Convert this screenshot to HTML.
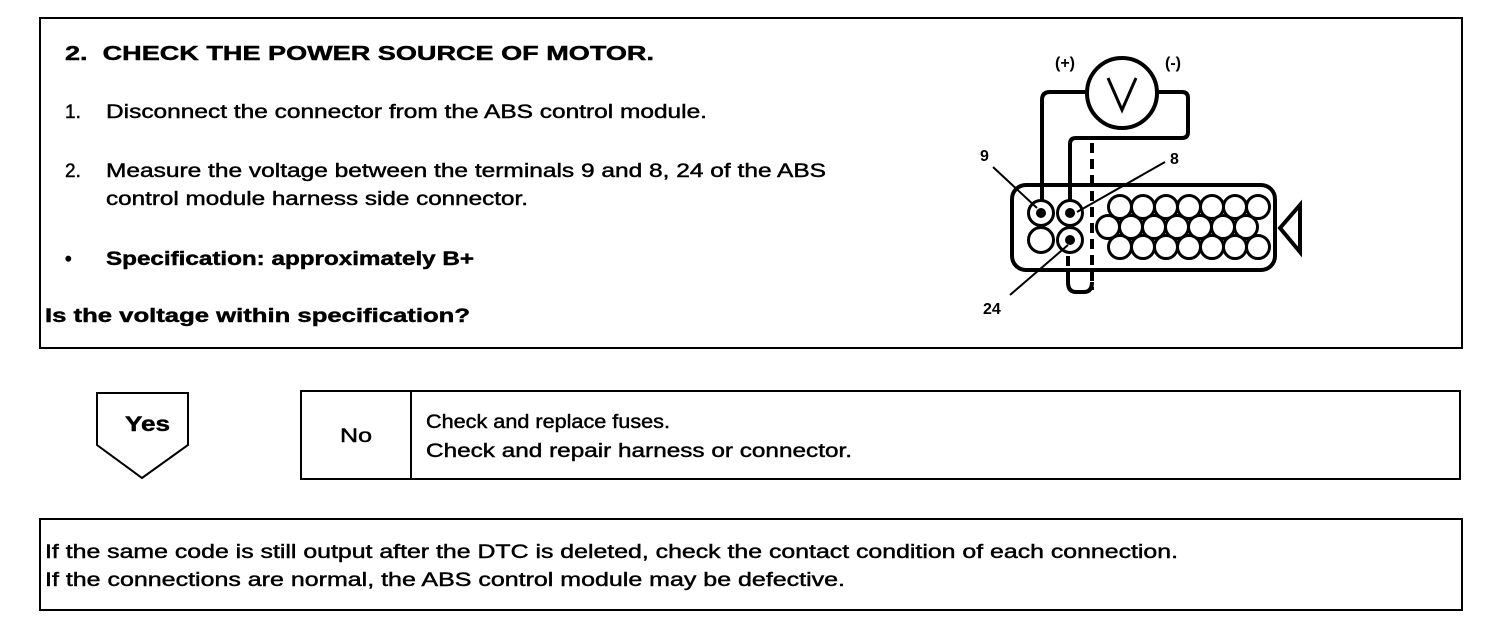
<!DOCTYPE html>
<html><head><style>
body{margin:0;background:#fff;}
svg text{font-family:"Liberation Sans",Arial,sans-serif;fill:#000;}
.t{stroke:#000;stroke-width:0.45;}
</style></head><body>
<svg width="1504" height="626" viewBox="0 0 1504 626" xmlns="http://www.w3.org/2000/svg">
<g fill="none" stroke="#000" stroke-width="2">
<rect x="40" y="18" width="1422" height="330"/>
<path d="M97 393 H188 V445 L142 478 L97 445 Z"/>
<rect x="301" y="391" width="1159" height="88"/>
<line x1="411" y1="391" x2="411" y2="479"/>
<rect x="40" y="519" width="1422" height="91"/>
</g>
<g font-size="19" class="t" lengthAdjust="spacingAndGlyphs">
<text x="65" y="60" font-weight="bold" font-size="20" textLength="589" lengthAdjust="spacingAndGlyphs">2.&#160;&#160;CHECK THE POWER SOURCE OF MOTOR.</text>
<text x="65" y="118">1.</text><text x="106" y="118" textLength="601" lengthAdjust="spacingAndGlyphs">Disconnect the connector from the ABS control module.</text>
<text x="65" y="177">2.</text><text x="106" y="177" textLength="720" lengthAdjust="spacingAndGlyphs">Measure the voltage between the terminals 9 and 8, 24 of the ABS</text>
<text x="106" y="205" textLength="422" lengthAdjust="spacingAndGlyphs">control module harness side connector.</text>
<text x="65" y="265" font-weight="bold">•</text><text x="106" y="265" font-weight="bold" textLength="368" lengthAdjust="spacingAndGlyphs">Specification: approximately B+</text>
<text x="45" y="322" font-weight="bold" textLength="425" lengthAdjust="spacingAndGlyphs">Is the voltage within specification?</text>
<text x="125" y="431" font-weight="bold" font-size="21" textLength="45" lengthAdjust="spacingAndGlyphs">Yes</text>
<text x="340" y="442" textLength="32" lengthAdjust="spacingAndGlyphs">No</text>
<text x="426" y="428" textLength="244" lengthAdjust="spacingAndGlyphs">Check and replace fuses.</text>
<text x="426" y="457" textLength="426" lengthAdjust="spacingAndGlyphs">Check and repair harness or connector.</text>
<text x="45" y="558" textLength="1133" lengthAdjust="spacingAndGlyphs">If the same code is still output after the DTC is deleted, check the contact condition of each connection.</text>
<text x="45" y="586" textLength="800" lengthAdjust="spacingAndGlyphs">If the connections are normal, the ABS control module may be defective.</text>
</g>
<g fill="none" stroke="#000" stroke-width="4">
<circle cx="1122" cy="93" r="35"/>
<path d="M1087 92 H1050 Q1042 92 1042 100 V213"/>
<path d="M1157 92 H1182 Q1188 92 1188 98 V132 Q1188 138 1182 138 H1076 Q1070 138 1070 144 V213"/>
<rect x="1012" y="185" width="263" height="85" rx="14"/>
<path d="M1092 143 V290" stroke-dasharray="10,6"/>
<path d="M1068 240 V282" stroke-dasharray="10,6"/>
<path d="M1068 282 Q1068 292 1076 292 H1084 Q1092 292 1092 282"/>
<path d="M1280 228 L1300 205 V252 Z"/>
</g>
<g fill="#fff" stroke="#000" stroke-width="3">
<circle cx="1041" cy="213" r="12.5"/><circle cx="1070" cy="213" r="12.5"/>
<circle cx="1041" cy="240" r="12.5"/><circle cx="1070" cy="240" r="12.5"/>
<circle cx="1120" cy="207" r="11.5"/><circle cx="1143" cy="207" r="11.5"/><circle cx="1166" cy="207" r="11.5"/><circle cx="1189" cy="207" r="11.5"/><circle cx="1212" cy="207" r="11.5"/><circle cx="1235" cy="207" r="11.5"/><circle cx="1258" cy="207" r="11.5"/>
<circle cx="1108" cy="227" r="11.5"/><circle cx="1131" cy="227" r="11.5"/><circle cx="1154" cy="227" r="11.5"/><circle cx="1177" cy="227" r="11.5"/><circle cx="1200" cy="227" r="11.5"/><circle cx="1223" cy="227" r="11.5"/><circle cx="1246" cy="227" r="11.5"/>
<circle cx="1120" cy="247" r="11.5"/><circle cx="1143" cy="247" r="11.5"/><circle cx="1166" cy="247" r="11.5"/><circle cx="1189" cy="247" r="11.5"/><circle cx="1212" cy="247" r="11.5"/><circle cx="1235" cy="247" r="11.5"/><circle cx="1258" cy="247" r="11.5"/>
</g>
<g fill="#000"><circle cx="1041" cy="213" r="5"/><circle cx="1070" cy="213" r="5"/><circle cx="1070" cy="240" r="5"/></g>
<g stroke="#000" stroke-width="2">
<line x1="993" y1="167" x2="1037" y2="208"/>
<line x1="1165" y1="162" x2="1077" y2="212"/>
<line x1="1010" y1="295" x2="1068" y2="245"/>
</g>
<path d="M1108 78 L1122 110 L1136 78" fill="none" stroke="#000" stroke-width="3"/>
<g font-weight="bold" font-size="16">
<text x="1055" y="68">(+)</text><text x="1165" y="68">(-)</text>
<text x="980" y="161">9</text><text x="1170" y="164">8</text><text x="983" y="314">24</text>
</g>
</svg>
</body></html>
